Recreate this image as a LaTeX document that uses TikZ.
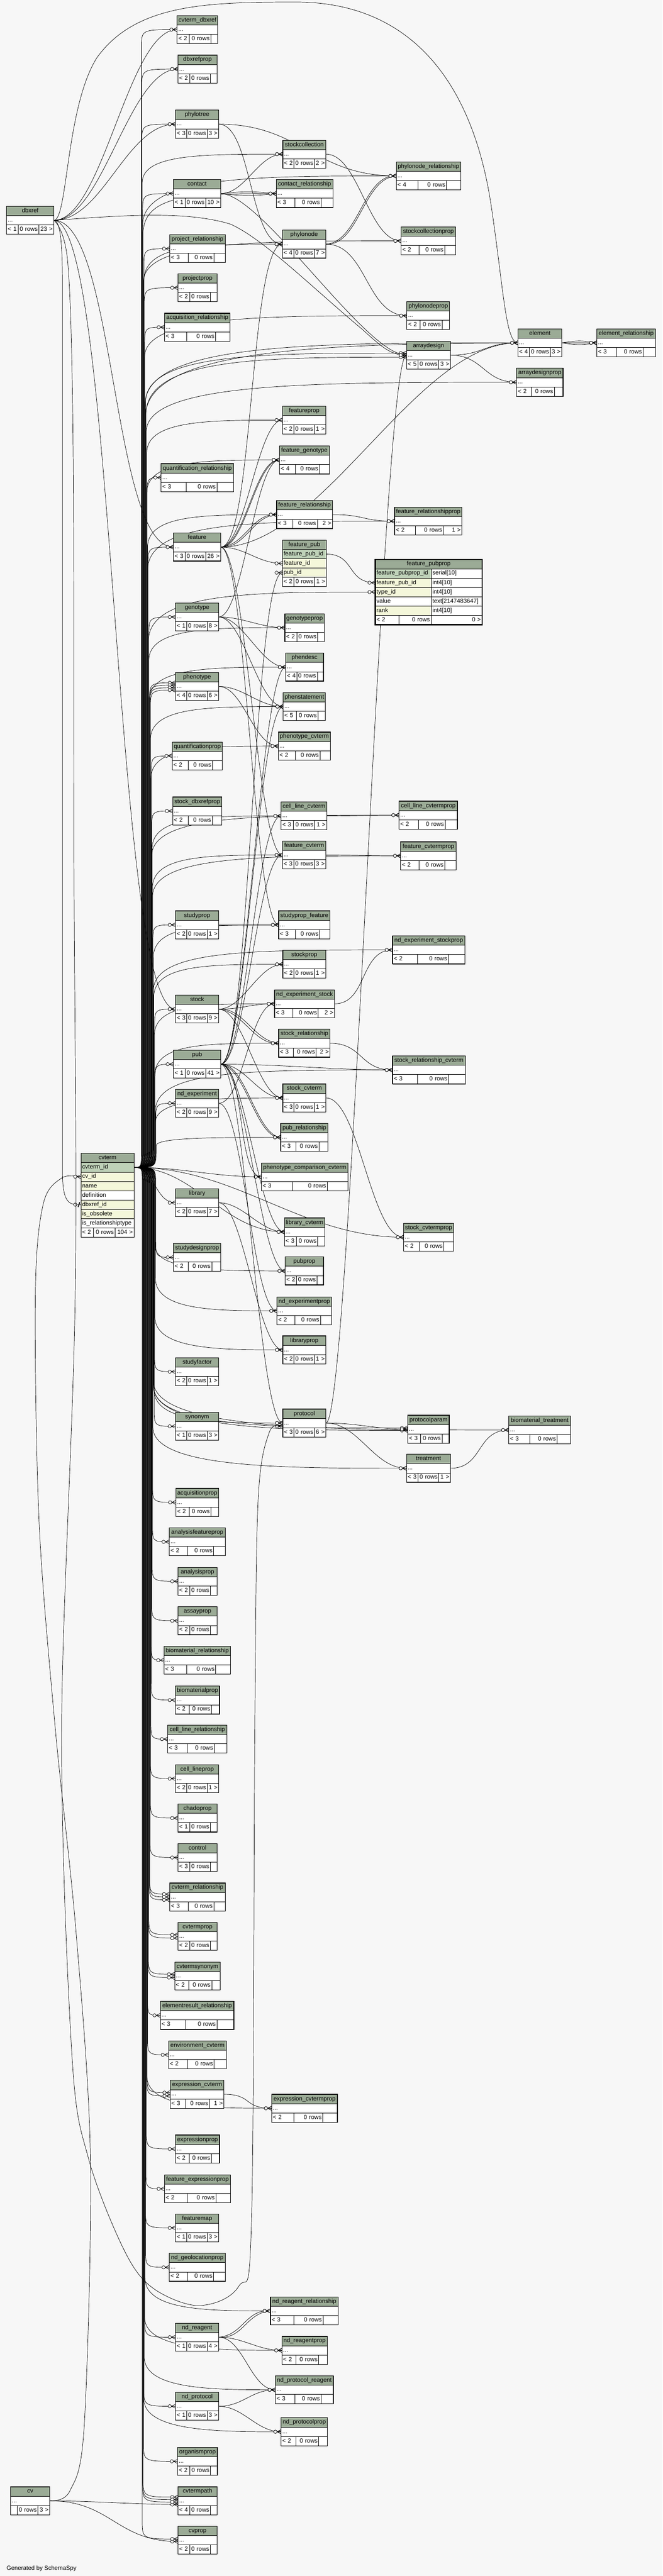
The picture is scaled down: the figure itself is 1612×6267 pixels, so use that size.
\documentclass[tikz,border=0pt]{standalone}
\usepackage{fontspec}
\setmainfont{Liberation Sans}
\usetikzlibrary{calc}
\definecolor{hdrc}{HTML}{9BAB96}
\definecolor{pkc}{HTML}{BED1B8}
\definecolor{fkc}{HTML}{F4F7DA}
\definecolor{bgc}{HTML}{F7F7F7}
\pgfdeclarelayer{bgl}
\pgfdeclarelayer{edges}
\pgfsetlayers{bgl,edges,main}
\newdimen\lenA \newdimen\lenB \newdimen\lenC
\font\tfP="Liberation Sans" at 14.5pt
\newcommand\tfX{\fontsize{14.5}{17}\selectfont}
\tikzset{
 hdr/.style={draw,fill=hdrc,line width=1pt,inner sep=0pt,outer sep=0pt,minimum height=22.67pt,text height=10.5pt,text depth=3pt,font=\tfX},
 bodyc/.style={draw,fill=white,line width=1pt,inner sep=0pt,outer sep=0pt,minimum height=22.67pt},
 txt/.style={inner sep=0pt,outer sep=0pt,font=\tfX,text height=10.5pt,text depth=3pt},
 fcell/.style={draw,fill=white,line width=1pt,inner xsep=3pt,inner ysep=0pt,outer sep=0pt,minimum height=22.67pt,text height=10.5pt,text depth=3pt,font=\tfX},
 fk/.style={line width=0.9pt,draw=black},
}
% footer row
\makeatletter
\newcommand\ftX[6]{%
  \pgfmathsetmacro\xTW{#4-#2}%
  \setbox0=\hbox{\tfP #5}\lenA=\wd0 \advance\lenA by 8pt\ifdim\lenA<16pt \lenA=16pt\fi
  \setbox0=\hbox{\tfP 0 rows}\lenB=\wd0 \advance\lenB by 8pt
  \setbox0=\hbox{\tfP #6}\lenC=\wd0 \advance\lenC by 8pt\ifdim\lenC<16pt \lenC=16pt\fi
  \edef\xLA{\strip@pt\lenA}\edef\xLB{\strip@pt\lenB}\edef\xLC{\strip@pt\lenC}%
  \pgfmathsetmacro\xEX{\xTW-\xLA-\xLB-\xLC}%
  \pgfmathsetmacro\xWA{\xLA+0.4*\xEX-6}%
  \pgfmathsetmacro\xWB{\xLB+0.3*\xEX-6}%
  \pgfmathsetmacro\xWC{\xTW-\xWA-\xWB-18}%
  \node[fcell,text width=\xWA pt,align=left,anchor=north west] (#1-f1) at (#2,#3) {\mbox{#5}};%
  \node[fcell,text width=\xWB pt,align=right,anchor=north west] (#1-f2) at (#1-f1.north east) {\mbox{0 rows}};%
  \node[fcell,text width=\xWC pt,align=right,anchor=north west] (#1-f3) at (#1-f2.north east) {\mbox{#6}};%
}
\makeatother
% table with "..." body
\newcommand\tbX[6]{%
  \pgfmathsetmacro\xTW{#4-#2}%
  \node[hdr,minimum width=\xTW pt,anchor=north west] (#1-h) at (#2,#3) {\detokenize{#1}};%
  \node[bodyc,minimum width=\xTW pt,anchor=north west] (#1) at (#1-h.south west) {};%
  \node[txt,anchor=west] (#1-t) at ([xshift=3pt]#1.west) {...};%
  \ftX{#1}{#2}{#3+45.33}{#4}{#5}{#6}%
  \draw[line width=1.4pt] (#1-h.north west) rectangle (#1-f3.south east);%
}
% column row
\newcommand\rwX[6]{\pgfmathsetmacro\xTA{#4-6}\node[fcell,fill=#5,text width=\xTA pt,align=left,anchor=north west] (#1) at (#2,#3) {\mbox{#6}};}
% crow's foot with circle
\newcommand\cfX[1]{\begin{scope}[shift={(#1)}]\draw[fk] (-10,0) -- (0,-5) (-10,0) -- (0,0) (-10,0) -- (0,5);\draw[fk,fill=bgc] (-14,0) circle[radius=4];\end{scope}}
\newcommand\cfOneX[1]{\begin{scope}[shift={(#1)}]\draw[line width=2pt] (-7,6) -- (-3,-6);\draw[fk,fill=bgc] (-14,0) circle[radius=4];\end{scope}}
% generic edges
\newcommand\ekX[3][60]{\draw[fk] (#2) .. controls +(#1,0) and +(-#1,0) .. (#3); \cfX{#3}}
\newcommand\ekvX[4][60]{\draw[fk] (#2) .. controls +(#1,#4) and +(-#1,#4) .. (#3); \cfX{#3}}
% cvterm bus edges
\newcommand\cvUX[2]{\draw[fk] (cvterm-id.east) .. controls (#2,0 |- cvterm-id.east) .. ($(#2,0 |- cvterm-id.east)+(0,-45)$) -- ($(#2,0 |- #1)+(0,45)$) .. controls (#2,0 |- #1) .. (#1); \cfX{#1}}
\newcommand\cvDX[2]{\draw[fk] (cvterm-id.east) .. controls (#2,0 |- cvterm-id.east) .. ($(#2,0 |- cvterm-id.east)+(0,45)$) -- ($(#2,0 |- #1)+(0,-45)$) .. controls (#2,0 |- #1) .. (#1); \cfX{#1}}
\newcommand\cvMUX[4]{\draw[fk] (cvterm-id.east) .. controls (#2,0 |- cvterm-id.east) .. ($(#2,0 |- cvterm-id.east)+(0,-45)$) -- ($(#2,0 |- #1)+(0,#3)$) .. controls +(0,-#3) and +(-#4,0) .. (#1); \cfX{#1}}
\newcommand\cvMDX[4]{\draw[fk] (cvterm-id.east) .. controls (#2,0 |- cvterm-id.east) .. ($(#2,0 |- cvterm-id.east)+(0,45)$) -- ($(#2,0 |- #1)+(0,-#3)$) .. controls +(0,#3) and +(-#4,0) .. (#1); \cfX{#1}}
\begin{document}
\begin{tikzpicture}[x=1pt,y=-1pt]
\useasboundingbox (0,0) rectangle (1612,6267);
\begin{pgfonlayer}{bgl}
\fill[bgc] (0,0) rectangle (1612,6267);
\end{pgfonlayer}
% ---------- left column ----------
\tbX{cvterm_dbxref}{431}{38}{530}{< 2}{}
\tbX{dbxrefprop}{433}{134}{528}{< 2}{}
\tbX{phylotree}{427}{268}{532}{< 3}{3 >}
\tbX{contact}{422}{437}{537}{< 1}{10 >}
\tbX{project_relationship}{413}{571}{548}{< 3}{}
\tbX{projectprop}{433}{666}{528}{< 2}{}
\tbX{acquisition_relationship}{400}{762}{560}{< 3}{}
\tbX{quantification_relationship}{392}{1128}{568}{< 3}{}
\tbX{feature}{422}{1297}{537}{< 3}{26 >}
\tbX{genotype}{427}{1467}{532}{< 1}{8 >}
\tbX{phenotype}{427}{1636}{532}{< 4}{6 >}
\tbX{quantificationprop}{419}{1805}{541}{< 2}{}
\tbX{stock_dbxrefprop}{420}{1939}{540}{< 2}{}
\tbX{studyprop}{427}{2216}{532}{< 2}{1 >}
\tbX{stock}{427}{2421}{532}{< 3}{9 >}
\tbX{pub}{422}{2555}{537}{< 1}{41 >}
\tbX{nd_experiment}{427}{2650}{532}{< 2}{9 >}
\tbX{library}{427}{2892}{532}{< 2}{7 >}
\tbX{studydesignprop}{422}{3025}{537}{< 2}{}
\tbX{studyfactor}{427}{3303}{532}{< 2}{1 >}
\tbX{synonym}{427}{3436}{532}{< 1}{3 >}
\tbX{acquisitionprop}{428}{3621}{532}{< 2}{}
\tbX{analysisfeatureprop}{412}{3717}{548}{< 2}{}
\tbX{analysisprop}{433}{3813}{528}{< 2}{}
\tbX{assayprop}{433}{3909}{528}{< 2}{}
\tbX{biomaterial_relationship}{399}{4005}{561}{< 3}{}
\tbX{biomaterialprop}{427}{4102}{534}{< 2}{}
\tbX{cell_line_relationship}{408}{4197}{552}{< 3}{}
\tbX{cell_lineprop}{427}{4293}{532}{< 2}{1 >}
\tbX{chadoprop}{433}{4389}{528}{< 1}{}
\tbX{control}{433}{4485}{528}{< 3}{}
\tbX{cvterm_relationship}{413}{4581}{548}{< 3}{}
\tbX{cvtermprop}{433}{4677}{528}{< 2}{}
\tbX{cvtermsynonym}{425}{4773}{536}{< 2}{}
\tbX{elementresult_relationship}{390}{4869}{569}{< 3}{}
\tbX{environment_cvterm}{410}{4965}{551}{< 2}{}
\tbX{expression_cvterm}{414}{5061}{545}{< 3}{1 >}
\tbX{expressionprop}{427}{5194}{534}{< 2}{}
\tbX{feature_expressionprop}{400}{5291}{561}{< 2}{}
\tbX{featuremap}{427}{5386}{532}{< 1}{3 >}
\tbX{nd_geolocationprop}{412}{5482}{548}{< 2}{}
\tbX{nd_reagent}{427}{5652}{532}{< 1}{4 >}
\tbX{nd_protocol}{427}{5820}{532}{< 1}{3 >}
\tbX{organismprop}{432}{5954}{529}{< 2}{}
\tbX{cvtermpath}{433}{6050}{528}{< 4}{}
\tbX{cvprop}{433}{6146}{528}{< 2}{}
% ---------- middle column ----------
\tbX{stockcollection}{688}{341}{793}{< 2}{2 >}
\tbX{contact_relationship}{672}{437}{810}{< 3}{}
\tbX{phylonode}{687}{560}{793}{< 4}{7 >}
\tbX{featureprop}{687}{988}{793}{< 2}{1 >}
\tbX{feature_genotype}{680}{1085}{801}{< 4}{}
\tbX{feature_relationship}{673}{1218}{809}{< 3}{2 >}
\tbX{genotypeprop}{693}{1493}{789}{< 2}{}
\tbX{phendesc}{695}{1589}{787}{< 4}{}
\tbX{phenstatement}{689}{1685}{792}{< 5}{}
\tbX{phenotype_cvterm}{677}{1781}{804}{< 2}{}
\tbX{cell_line_cvterm}{684}{1951}{795}{< 3}{1 >}
\tbX{feature_cvterm}{687}{2046}{793}{< 3}{3 >}
\tbX{studyprop_feature}{678}{2216}{803}{< 3}{}
\tbX{stockprop}{688}{2312}{793}{< 2}{1 >}
\tbX{nd_experiment_stock}{668}{2408}{814}{< 3}{2 >}
\tbX{stock_relationship}{678}{2504}{803}{< 3}{2 >}
\tbX{stock_cvterm}{688}{2637}{793}{< 3}{1 >}
\tbX{pub_relationship}{683}{2733}{798}{< 3}{}
\tbX{phenotype_comparison_cvterm}{636}{2829}{847}{< 3}{}
\tbX{library_cvterm}{692}{2963}{790}{< 3}{}
\tbX{pubprop}{694}{3058}{787}{< 2}{}
\tbX{nd_experimentprop}{674}{3155}{807}{< 2}{}
\tbX{libraryprop}{688}{3250}{793}{< 2}{1 >}
\tbX{protocol}{688}{3428}{793}{< 3}{6 >}
\tbX{expression_cvtermprop}{661}{5095}{821}{< 2}{}
\tbX{nd_reagent_relationship}{658}{5588}{823}{< 3}{}
\tbX{nd_reagentprop}{686}{5684}{796}{< 2}{}
\tbX{nd_protocol_reagent}{670}{5780}{811}{< 3}{}
\tbX{nd_protocolprop}{684}{5882}{797}{< 2}{}
% ---------- right column ----------
\tbX{phylonode_relationship}{964}{394}{1121}{< 4}{}
\tbX{stockcollectionprop}{976}{552}{1109}{< 2}{}
\tbX{phylonodeprop}{990}{734}{1094}{< 2}{}
\tbX{arraydesign}{989}{830}{1096}{< 5}{3 >}
\tbX{feature_relationshipprop}{960}{1234}{1124}{< 2}{1 >}
\tbX{cell_line_cvtermprop}{971}{1949}{1113}{< 2}{}
\tbX{feature_cvtermprop}{975}{2048}{1110}{< 2}{}
\tbX{nd_experiment_stockprop}{955}{2277}{1131}{< 2}{}
\tbX{stock_relationship_cvterm}{955}{2569}{1132}{< 3}{}
\tbX{stock_cvtermprop}{982}{2976}{1104}{< 2}{}
\tbX{protocolparam}{992}{3443}{1093}{< 3}{}
\tbX{treatment}{989}{3538}{1096}{< 3}{1 >}
% ---------- far right ----------
\tbX{element}{1260}{800}{1367}{< 4}{3 >}
\tbX{element_relationship}{1452}{800}{1595}{< 3}{}
\tbX{arraydesignprop}{1257}{896}{1370}{< 2}{}
\tbX{biomaterial_treatment}{1238}{3445}{1388}{< 3}{}
% ---------- far left ----------
\tbX{dbxref}{16}{502}{131}{< 1}{23 >}
\tbX{cv}{26}{6050}{121}{}{3 >}
% ---------- cvterm ----------
\node[hdr,minimum width=129pt,anchor=north west] (cvterm-h) at (197,2806) {cvterm};
\rwX{cvterm-id}{197}{2828.67}{129}{pkc}{cvterm\_id}
\rwX{cvterm-cv}{197}{2851.33}{129}{fkc}{cv\_id}
\rwX{cvterm-name}{197}{2874}{129}{fkc}{name}
\rwX{cvterm-def}{197}{2896.67}{129}{white}{definition}
\rwX{cvterm-dbx}{197}{2919.33}{129}{fkc}{dbxref\_id}
\rwX{cvterm-obs}{197}{2942}{129}{fkc}{is\_obsolete}
\rwX{cvterm-rel}{197}{2964.67}{129}{white}{is\_relationshiptype}
\ftX{cvterm}{197}{2987.33}{326}{< 2}{104 >}
\draw[line width=1.4pt] (cvterm-h.north west) rectangle (cvterm-f3.south east);
% ---------- feature_pub ----------
\node[hdr,minimum width=107pt,anchor=north west] (fp-h) at (687,1314) {feature\_pub};
\rwX{fp-id}{687}{1336.67}{107}{pkc}{feature\_pub\_id}
\rwX{fp-feat}{687}{1359.33}{107}{fkc}{feature\_id}
\rwX{fp-pub}{687}{1382}{107}{fkc}{pub\_id}
\ftX{fp}{687}{1404.67}{794}{< 2}{1 >}
\draw[line width=1.4pt] (fp-h.north west) rectangle (fp-f3.south east);
% ---------- feature_pubprop (focus) ----------
\node[hdr,minimum width=260pt,anchor=north west] (fpp-h) at (913,1361) {feature\_pubprop};
\rwX{fpp-pk}{913}{1383.67}{136}{pkc}{feature\_pubprop\_id}
\rwX{fpp-pkt}{1049}{1383.67}{124}{white}{serial[10]}
\rwX{fpp-fpid}{913}{1406.33}{136}{fkc}{feature\_pub\_id}
\rwX{fpp-fpidt}{1049}{1406.33}{124}{white}{int4[10]}
\rwX{fpp-type}{913}{1429}{136}{fkc}{type\_id}
\rwX{fpp-typet}{1049}{1429}{124}{white}{int4[10]}
\rwX{fpp-val}{913}{1451.67}{136}{white}{value}
\rwX{fpp-valt}{1049}{1451.67}{124}{white}{text[2147483647]}
\rwX{fpp-rank}{913}{1474.33}{136}{fkc}{rank}
\rwX{fpp-rankt}{1049}{1474.33}{124}{white}{int4[10]}
\node[fcell,text width=51pt,align=left,anchor=north west] (fpp-f1) at (913,1497) {\mbox{< 2}};
\node[fcell,text width=73pt,align=right,anchor=north west] (fpp-f2) at (fpp-f1.north east) {\mbox{0 rows}};
\node[fcell,text width=118pt,align=right,anchor=north west] (fpp-f3) at (fpp-f2.north east) {\mbox{0 >}};
\draw[line width=3pt] (fpp-h.north west) rectangle (fpp-f3.south east);
\node[txt,anchor=west] (gen) at (16,6249) {Generated by SchemaSpy};
% ---------- offset end points for multiple links ----------
\coordinate (ph1) at ($(phenotype.west)+(0,-9)$);
\coordinate (ph2) at ($(phenotype.west)+(0,-3)$);
\coordinate (ph3) at ($(phenotype.west)+(0,3)$);
\coordinate (ph4) at ($(phenotype.west)+(0,9)$);
\coordinate (cr1) at ($(cvterm_relationship.west)+(0,-7)$);
\coordinate (cr2) at ($(cvterm_relationship.west)+(0,0)$);
\coordinate (cr3) at ($(cvterm_relationship.west)+(0,7)$);
\coordinate (cp1) at ($(cvtermprop.west)+(0,-4)$);
\coordinate (cp2) at ($(cvtermprop.west)+(0,4)$);
\coordinate (cs1) at ($(cvtermsynonym.west)+(0,-4)$);
\coordinate (cs2) at ($(cvtermsynonym.west)+(0,4)$);
\coordinate (ec1) at ($(expression_cvterm.west)+(0,-4)$);
\coordinate (ec2) at ($(expression_cvterm.west)+(0,4)$);
\coordinate (cpa1) at ($(cvtermpath.west)+(0,-9)$);
\coordinate (cpa2) at ($(cvtermpath.west)+(0,-3)$);
\coordinate (cpa3) at ($(cvtermpath.west)+(0,3)$);
\coordinate (cpa4) at ($(cvtermpath.west)+(0,9)$);
\coordinate (cvp1) at ($(cvprop.west)+(0,-3)$);
\coordinate (cvp2) at ($(cvprop.west)+(0,3)$);
\coordinate (ad1) at ($(arraydesign.west)+(0,-5)$);
\coordinate (ad2) at ($(arraydesign.west)+(0,5)$);
\coordinate (pp1) at ($(protocolparam.west)+(0,-3)$);
\coordinate (pp2) at ($(protocolparam.west)+(0,3)$);
\coordinate (pr2) at ($(protocol.west)+(0,8)$);
% ================= connectors =================
\begin{pgfonlayer}{edges}
% --- dbxref ---
\ekX[120]{dbxref.east}{cvterm_dbxref.west}
\ekX[120]{dbxref.east}{dbxrefprop.west}
\ekX[120]{dbxref.east}{phylotree.west}
\ekX[150]{dbxref.east}{feature.west}
\ekX[150]{dbxref.east}{stock.west}
\draw[fk] (dbxref.east) .. controls (165,536) and (160,260) .. (236,140) .. controls (330,10) and (500,5) .. (720,5) .. controls (1000,5) and (1150,200) .. (1195,500) .. controls (1225,700) and (1230,834) .. (element.west); \cfX{element.west}
\draw[fk] (dbxref.east) .. controls (300,524) and (450,512) .. (560,545) .. controls (640,580) and (760,700) .. (880,800) .. controls (930,845) and (950,864) .. (arraydesign.west); \cfX{arraydesign.west}
\draw[fk] (dbxref.east) .. controls (148,536) and (152,600) .. (152,700) -- (152,2850) .. controls (152,2931) and (170,2931) .. (cvterm-dbx.west); \cfOneX{cvterm-dbx.west}
\draw[fk] plot[smooth,tension=0.55] coordinates {(dbxref.east) (165,640) (178,1100) (180,2100) (183,3150) (150,4200) (175,5000) (215,5250) (300,5470) (370,5565) (483,5609) (581,5562) (612,5400) (620,4200) (628,3650) (655,3485) (pr2)}; \cfX{pr2}
% --- cv ---
\draw[fk] plot[smooth,tension=0.55] coordinates {(cv.east) (170,6060) (205,5900) (220,5250) (185,4700) (134,4200) (95,3700) (86,3150) (105,2930) (150,2866) (cvterm-cv.west)}; \cfX{cvterm-cv.west}
\ekX[100]{cv.east}{cpa4}
\ekX[150]{cv.east}{cvp2}
% --- cvterm, above ---
\cvUX{cvterm_dbxref.west}{344}
\cvUX{dbxrefprop.west}{345}
\cvUX{phylotree.west}{345}
\cvMUX{stockcollection.west}{346}{70}{200}
\cvMUX{phylonode_relationship.west}{347}{120}{350}
\cvUX{contact.west}{347}
\cvMUX{contact_relationship.west}{348}{100}{200}
\cvMUX{stockcollectionprop.west}{349}{100}{350}
\cvMUX{phylonode.west}{350}{90}{200}
\cvUX{project_relationship.west}{350}
\cvUX{projectprop.west}{351}
\cvMUX{phylonodeprop.west}{352}{100}{350}
\cvUX{acquisition_relationship.west}{352}
\cvMUX{element.west}{353}{150}{500}
\cvMUX{element_relationship.west}{354}{180}{600}
\cvMUX{ad1}{354}{120}{350}
\cvMUX{ad2}{355}{140}{350}
\cvMUX{arraydesignprop.west}{356}{120}{500}
\cvMUX{featureprop.west}{357}{80}{180}
\cvMUX{feature_genotype.west}{357}{80}{180}
\cvUX{quantification_relationship.west}{358}
\cvMUX{feature_relationship.west}{359}{80}{180}
\cvMUX{feature_relationshipprop.west}{359}{120}{350}
\cvUX{feature.west}{360}
\cvMUX{fpp-type.west}{361}{120}{300}
\cvUX{genotype.west}{362}
\cvMUX{genotypeprop.west}{362}{80}{180}
\cvMUX{phendesc.west}{363}{80}{180}
\cvUX{ph1}{364}
\cvUX{ph2}{364}
\cvUX{ph3}{365}
\cvUX{ph4}{366}
\cvMUX{phenstatement.west}{366}{80}{180}
\cvMUX{phenotype_cvterm.west}{367}{80}{180}
\cvUX{quantificationprop.west}{368}
\cvUX{stock_dbxrefprop.west}{369}
\cvMUX{cell_line_cvtermprop.west}{369}{100}{350}
\cvMUX{cell_line_cvterm.west}{370}{80}{180}
\cvMUX{feature_cvterm.west}{371}{80}{180}
\cvMUX{feature_cvtermprop.west}{371}{100}{350}
\cvUX{studyprop.west}{372}
\cvMUX{studyprop_feature.west}{373}{80}{180}
\cvMUX{nd_experiment_stockprop.west}{373}{100}{350}
\cvMUX{stockprop.west}{374}{80}{180}
\cvMUX{nd_experiment_stock.west}{375}{80}{180}
\cvUX{stock.west}{376}
\cvMUX{stock_relationship.west}{376}{80}{180}
\cvUX{pub.west}{377}
\cvMUX{stock_relationship_cvterm.west}{378}{100}{350}
\cvMUX{stock_cvterm.west}{378}{60}{150}
\cvUX{nd_experiment.west}{379}
\cvMUX{pub_relationship.west}{380}{20}{150}
% --- cvterm, below ---
\ekX[120]{cvterm-id.east}{phenotype_comparison_cvterm.west}
\ekX[50]{cvterm-id.east}{library.west}
\ekX[150]{cvterm-id.east}{library_cvterm.west}
\ekX[250]{cvterm-id.east}{stock_cvtermprop.west}
\cvDX{studydesignprop.west}{379}
\cvMDX{pubprop.west}{378}{60}{150}
\cvMDX{nd_experimentprop.west}{378}{80}{150}
\cvMDX{libraryprop.west}{377}{80}{150}
\cvDX{studyfactor.west}{376}
\cvMDX{protocol.west}{375}{80}{150}
\cvDX{synonym.west}{375}
\cvMDX{pp1}{374}{100}{300}
\cvMDX{pp2}{373}{110}{300}
\cvMDX{biomaterial_treatment.west}{373}{120}{450}
\cvMDX{treatment.west}{372}{100}{300}
\cvDX{acquisitionprop.west}{371}
\cvDX{analysisfeatureprop.west}{371}
\cvDX{analysisprop.west}{370}
\cvDX{assayprop.west}{369}
\cvDX{biomaterial_relationship.west}{368}
\cvDX{biomaterialprop.west}{368}
\cvDX{cell_line_relationship.west}{367}
\cvDX{cell_lineprop.west}{366}
\cvDX{chadoprop.west}{366}
\cvDX{control.west}{365}
\cvDX{cr1}{364}
\cvDX{cr2}{364}
\cvDX{cr3}{363}
\cvDX{cp1}{362}
\cvDX{cp2}{361}
\cvDX{cs1}{361}
\cvDX{cs2}{360}
\cvDX{elementresult_relationship.west}{359}
\cvDX{environment_cvterm.west}{359}
\cvDX{ec1}{358}
\cvDX{ec2}{357}
\cvMDX{expression_cvtermprop.west}{357}{80}{150}
\cvDX{expressionprop.west}{356}
\cvDX{feature_expressionprop.west}{355}
\cvDX{featuremap.west}{354}
\cvDX{nd_geolocationprop.west}{354}
\cvMDX{nd_reagent_relationship.west}{353}{80}{150}
\cvDX{nd_reagent.west}{352}
\cvMDX{nd_reagentprop.west}{352}{80}{150}
\cvMDX{nd_protocol_reagent.west}{351}{80}{150}
\cvDX{nd_protocol.west}{350}
\cvMDX{nd_protocolprop.west}{350}{80}{150}
\cvDX{organismprop.west}{349}
\cvDX{cpa1}{348}
\cvDX{cpa2}{347}
\cvDX{cpa3}{347}
\cvDX{cvp1}{346}
% --- contact ---
\ekX{contact.east}{stockcollection.west}
\ekvX[60]{contact.east}{contact_relationship.west}{-6}
\ekvX[60]{contact.east}{contact_relationship.west}{6}
\ekX[100]{contact.east}{arraydesign.west}
% --- phylotree / phylonode / stockcollection ---
\ekX[200]{phylotree.east}{phylonode_relationship.west}
\ekX[80]{phylotree.east}{phylonode.west}
\ekX[80]{stockcollection.east}{stockcollectionprop.west}
\ekvX[80]{phylonode.east}{phylonode_relationship.west}{-5}
\ekvX[80]{phylonode.east}{phylonode_relationship.west}{5}
\ekX[100]{phylonode.east}{phylonodeprop.west}
% --- element / arraydesign ---
\ekvX[40]{element.east}{element_relationship.west}{-6}
\ekvX[40]{element.east}{element_relationship.west}{6}
\ekX[80]{arraydesign.east}{element.west}
\ekX[80]{arraydesign.east}{arraydesignprop.west}
% --- feature ---
\ekX[250]{feature.east}{element.west}
\ekX[80]{feature.east}{phylonode.west}
\ekX{feature.east}{featureprop.west}
\ekvX{feature.east}{feature_genotype.west}{-4}
\ekvX{feature.east}{feature_genotype.west}{4}
\ekvX{feature.east}{feature_relationship.west}{-4}
\ekvX{feature.east}{feature_relationship.west}{4}
\ekX{feature.east}{fp-feat.west}
\ekX{feature.east}{feature_cvterm.west}
\ekX{feature.east}{studyprop_feature.west}
\ekX[80]{feature_relationship.east}{feature_relationshipprop.west}
\ekX[70]{fp-id.east}{fpp-fpid.west}
% --- genotype / phenotype ---
\ekX{genotype.east}{feature_genotype.west}
\ekX{genotype.east}{genotypeprop.west}
\ekX{genotype.east}{phendesc.west}
\ekX{genotype.east}{phenstatement.west}
\ekX{phenotype.east}{phenstatement.west}
\ekX{phenotype.east}{phenotype_cvterm.west}
\ekX[80]{cell_line_cvterm.east}{cell_line_cvtermprop.west}
\ekX[80]{feature_cvterm.east}{feature_cvtermprop.west}
\ekX{studyprop.east}{studyprop_feature.west}
% --- stock ---
\ekX{stock.east}{stockprop.west}
\ekX{stock.east}{nd_experiment_stock.west}
\ekvX{stock.east}{stock_relationship.west}{-5}
\ekvX{stock.east}{stock_relationship.west}{5}
\ekX{stock.east}{stock_cvterm.west}
\ekX[80]{nd_experiment_stock.east}{nd_experiment_stockprop.west}
\ekX[80]{stock_relationship.east}{stock_relationship_cvterm.west}
\ekX[80]{stock_cvterm.east}{stock_cvtermprop.west}
% --- pub ---
\ekX[70]{pub.east}{fp-pub.west}
\ekX{pub.east}{phendesc.west}
\ekX{pub.east}{phenstatement.west}
\ekX{pub.east}{cell_line_cvterm.west}
\ekX{pub.east}{feature_cvterm.west}
\ekX[150]{pub.east}{stock_relationship_cvterm.west}
\ekX{pub.east}{stock_cvterm.west}
\ekvX{pub.east}{pub_relationship.west}{-5}
\ekvX{pub.east}{pub_relationship.west}{5}
\ekX{pub.east}{phenotype_comparison_cvterm.west}
\ekX{pub.east}{library_cvterm.west}
\ekX{pub.east}{pubprop.west}
\ekX{pub.east}{protocol.west}
% --- nd_experiment / library ---
\ekX{nd_experiment.east}{nd_experiment_stock.west}
\ekX{nd_experiment.east}{nd_experimentprop.west}
\ekX{library.east}{library_cvterm.west}
\ekX{library.east}{libraryprop.west}
% --- protocol / treatment ---
\ekX[60]{protocol.east}{arraydesign.west}
\ekX[80]{protocol.east}{protocolparam.west}
\ekX[80]{protocol.east}{treatment.west}
\ekX[80]{treatment.east}{biomaterial_treatment.west}
% --- expression / nd_reagent / nd_protocol ---
\ekX[70]{expression_cvterm.east}{expression_cvtermprop.west}
\ekvX{nd_reagent.east}{nd_reagent_relationship.west}{-5}
\ekvX{nd_reagent.east}{nd_reagent_relationship.west}{5}
\ekX{nd_reagent.east}{nd_reagentprop.west}
\ekX{nd_reagent.east}{nd_protocol_reagent.west}
\ekX{nd_protocol.east}{nd_protocol_reagent.west}
\ekX{nd_protocol.east}{nd_protocolprop.west}
\end{pgfonlayer}
\end{tikzpicture}
\end{document}
